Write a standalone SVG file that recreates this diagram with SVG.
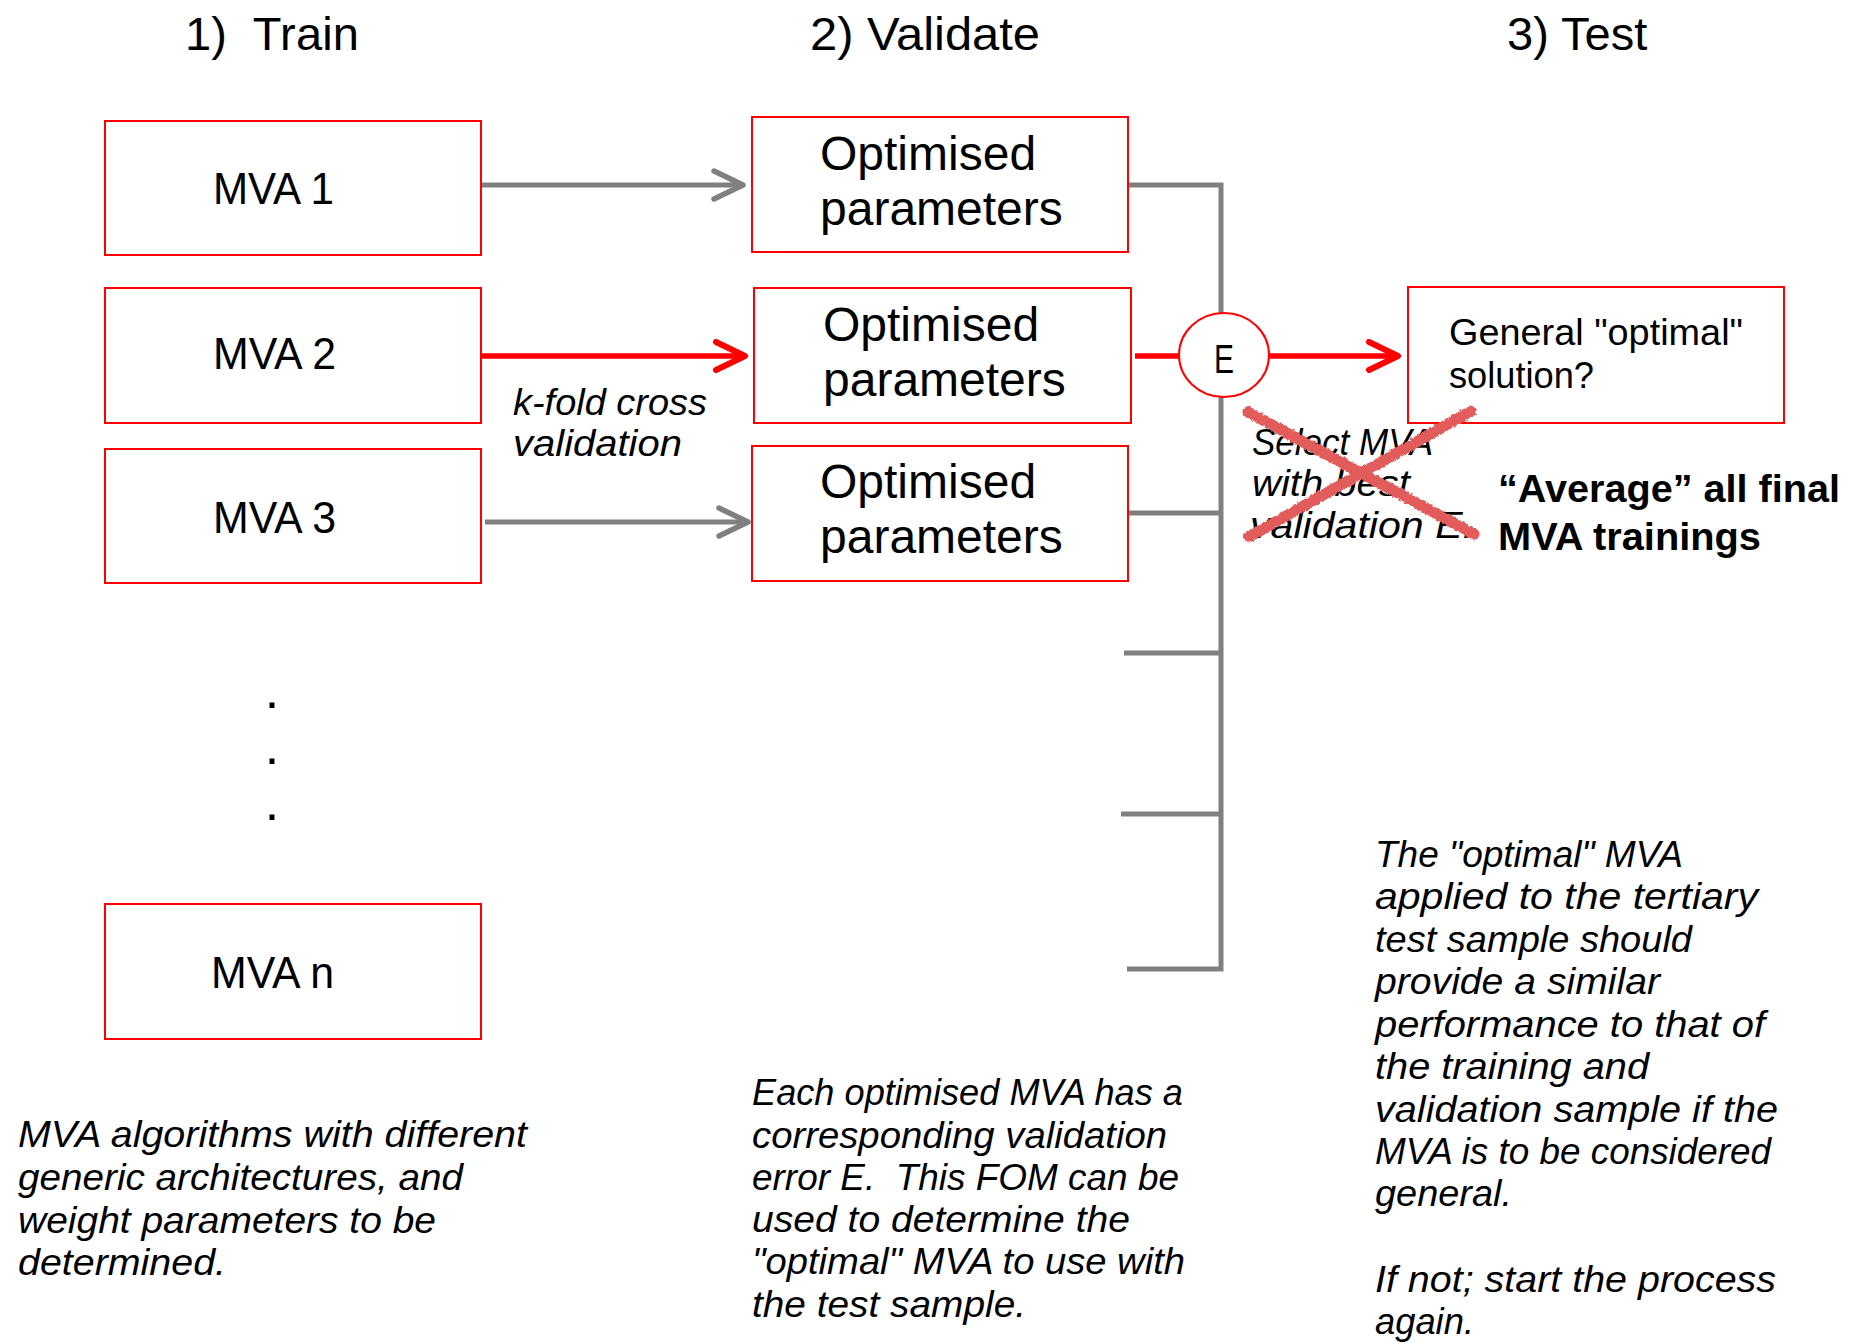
<svg xmlns="http://www.w3.org/2000/svg" width="1849" height="1343" viewBox="0 0 1849 1343">
<style>
text{font-family:"Liberation Sans",Arial,sans-serif;fill:#000}
.title{font-size:47px}
.box{fill:#fff;stroke:#ff0000;stroke-width:2}
.lbl{font-size:45px}
.opt{font-size:48px}
.it{font-style:italic;font-size:37px}
.bold{font-weight:bold;font-size:39px}
.gray{fill:none;stroke:#808080;stroke-width:5}
.red{fill:none;stroke:#ff0000;stroke-width:5.5}
.cross{stroke:#e35b5b;stroke-width:11;stroke-linecap:round;fill:none}
</style>
<defs>
<marker id="ahGray" markerUnits="userSpaceOnUse" markerWidth="40" markerHeight="40" refX="33" refY="17" orient="auto">
<path d="M4,3 L33,17 L4,31" fill="none" stroke="#808080" stroke-width="5.5" stroke-linecap="round" stroke-linejoin="round"/>
</marker>
<marker id="ahRed" markerUnits="userSpaceOnUse" markerWidth="40" markerHeight="40" refX="33" refY="17" orient="auto">
<path d="M4,3 L33,17 L4,31" fill="none" stroke="#ff0000" stroke-width="6" stroke-linecap="round" stroke-linejoin="round"/>
</marker>
<filter id="rough" x="-10%" y="-10%" width="120%" height="120%">
<feTurbulence type="fractalNoise" baseFrequency="0.35" numOctaves="2" seed="3" result="n"/>
<feDisplacementMap in="SourceGraphic" in2="n" scale="4" xChannelSelector="R" yChannelSelector="G"/>
</filter>
</defs>
<rect width="1849" height="1343" fill="#fff"/>

<g id="titles">
<text class="title" x="185" y="50" xml:space="preserve" textLength="174" lengthAdjust="spacing">1)  Train</text>
<text class="title" x="810" y="50" textLength="230" lengthAdjust="spacingAndGlyphs">2) Validate</text>
<text class="title" x="1507" y="50">3) Test</text>
</g>

<g id="connectors">
<line class="gray" x1="481" y1="185" x2="743" y2="185" marker-end="url(#ahGray)"/>
<line class="red" x1="481" y1="356" x2="745" y2="356" marker-end="url(#ahRed)"/>
<line class="gray" x1="485" y1="522" x2="748" y2="522" marker-end="url(#ahGray)"/>
<polyline class="gray" points="1128,185 1221,185 1221,969 1127,969"/>
<line class="gray" x1="1128" y1="513" x2="1221" y2="513"/>
<line class="gray" x1="1124" y1="653" x2="1221" y2="653"/>
<line class="gray" x1="1121" y1="814" x2="1221" y2="814"/>
<line class="red" x1="1135" y1="356" x2="1180" y2="356"/>
<line class="red" x1="1268" y1="356" x2="1398" y2="356" marker-end="url(#ahRed)"/>
</g>

<g id="mva1"><rect class="box" x="105" y="121" width="376" height="134"/><text class="lbl" x="213" y="204" textLength="121" lengthAdjust="spacingAndGlyphs">MVA 1</text></g>
<g id="mva2"><rect class="box" x="105" y="288" width="376" height="135"/><text class="lbl" x="213" y="369" textLength="123" lengthAdjust="spacingAndGlyphs">MVA 2</text></g>
<g id="mva3"><rect class="box" x="105" y="449" width="376" height="134"/><text class="lbl" x="213" y="533" textLength="123" lengthAdjust="spacingAndGlyphs">MVA 3</text></g>
<g id="dots">
<text x="272" y="708" font-size="52" text-anchor="middle">.</text>
<text x="272" y="764" font-size="52" text-anchor="middle">.</text>
<text x="272" y="820" font-size="52" text-anchor="middle">.</text>
</g>
<g id="mvan"><rect class="box" x="105" y="904" width="376" height="135"/><text class="lbl" x="211" y="988" textLength="123" lengthAdjust="spacingAndGlyphs">MVA n</text></g>

<g id="opt1"><rect class="box" x="752" y="117" width="376" height="135"/><text class="opt" x="820" y="170">Optimised</text><text class="opt" x="820" y="225">parameters</text></g>
<g id="opt2"><rect class="box" x="754" y="288" width="377" height="135"/><text class="opt" x="823" y="341">Optimised</text><text class="opt" x="823" y="396">parameters</text></g>
<g id="opt3"><rect class="box" x="752" y="446" width="376" height="135"/><text class="opt" x="820" y="498">Optimised</text><text class="opt" x="820" y="553">parameters</text></g>

<g id="errorE"><ellipse cx="1224" cy="355" rx="45" ry="42" fill="#fff" stroke="#ff0000" stroke-width="2"/><text x="1224" y="373" font-size="40" text-anchor="middle" textLength="20" lengthAdjust="spacingAndGlyphs">E</text></g>

<g id="general"><rect class="box" x="1408" y="287" width="376" height="136"/><text x="1449" y="345" font-size="37" textLength="294" lengthAdjust="spacingAndGlyphs">General "optimal"</text><text x="1449" y="388" font-size="37" textLength="145" lengthAdjust="spacingAndGlyphs">solution?</text></g>

<g id="kfold">
<text class="it" x="513" y="415" textLength="194" lengthAdjust="spacingAndGlyphs">k-fold cross</text>
<text class="it" x="513" y="456" textLength="169" lengthAdjust="spacingAndGlyphs">validation</text>
</g>

<g id="select">
<text class="it" x="1252" y="455" font-size="35" textLength="181" lengthAdjust="spacingAndGlyphs">Select MVA</text>
<text class="it" x="1252" y="496" font-size="35" textLength="158" lengthAdjust="spacingAndGlyphs">with best</text>
<text class="it" x="1250" y="538" font-size="35" textLength="224" lengthAdjust="spacingAndGlyphs">validation E.</text>
<g filter="url(#rough)">
<line class="cross" x1="1248" y1="412" x2="1474" y2="534"/>
<line class="cross" x1="1471" y1="411" x2="1249" y2="537"/>
</g>
</g>

<g id="average">
<text class="bold" x="1498" y="502" textLength="342" lengthAdjust="spacingAndGlyphs">“Average” all final</text>
<text class="bold" x="1498" y="550" textLength="263" lengthAdjust="spacingAndGlyphs">MVA trainings</text>
</g>

<g id="noteTrain">
<text class="it" x="18" y="1147" textLength="509" lengthAdjust="spacingAndGlyphs">MVA algorithms with different</text>
<text class="it" x="18" y="1190" textLength="445" lengthAdjust="spacingAndGlyphs">generic architectures, and</text>
<text class="it" x="18" y="1233" textLength="418" lengthAdjust="spacingAndGlyphs">weight parameters to be</text>
<text class="it" x="18" y="1275" textLength="208" lengthAdjust="spacingAndGlyphs">determined.</text>
</g>

<g id="noteValidate">
<text class="it" x="752" y="1105" textLength="431" lengthAdjust="spacingAndGlyphs">Each optimised MVA has a</text>
<text class="it" x="752" y="1148" textLength="415" lengthAdjust="spacingAndGlyphs">corresponding validation</text>
<text class="it" x="752" y="1190" textLength="427" lengthAdjust="spacingAndGlyphs" xml:space="preserve">error E.  This FOM can be</text>
<text class="it" x="752" y="1232" textLength="378" lengthAdjust="spacingAndGlyphs">used to determine the</text>
<text class="it" x="752" y="1274" textLength="433" lengthAdjust="spacingAndGlyphs">"optimal" MVA to use with</text>
<text class="it" x="752" y="1317" textLength="274" lengthAdjust="spacingAndGlyphs">the test sample.</text>
</g>

<g id="noteTest">
<text class="it" x="1375" y="867" textLength="308" lengthAdjust="spacingAndGlyphs">The "optimal" MVA</text>
<text class="it" x="1375" y="909" textLength="383" lengthAdjust="spacingAndGlyphs">applied to the tertiary</text>
<text class="it" x="1375" y="952" textLength="317" lengthAdjust="spacingAndGlyphs">test sample should</text>
<text class="it" x="1375" y="994" textLength="285" lengthAdjust="spacingAndGlyphs">provide a similar</text>
<text class="it" x="1375" y="1037" textLength="390" lengthAdjust="spacingAndGlyphs">performance to that of</text>
<text class="it" x="1375" y="1079" textLength="274" lengthAdjust="spacingAndGlyphs">the training and</text>
<text class="it" x="1375" y="1122" textLength="403" lengthAdjust="spacingAndGlyphs">validation sample if the</text>
<text class="it" x="1375" y="1164" textLength="396" lengthAdjust="spacingAndGlyphs">MVA is to be considered</text>
<text class="it" x="1375" y="1206" textLength="137" lengthAdjust="spacingAndGlyphs">general.</text>
<text class="it" x="1375" y="1292" textLength="401" lengthAdjust="spacingAndGlyphs">If not; start the process</text>
<text class="it" x="1375" y="1334" textLength="99" lengthAdjust="spacingAndGlyphs">again.</text>
</g>
</svg>
